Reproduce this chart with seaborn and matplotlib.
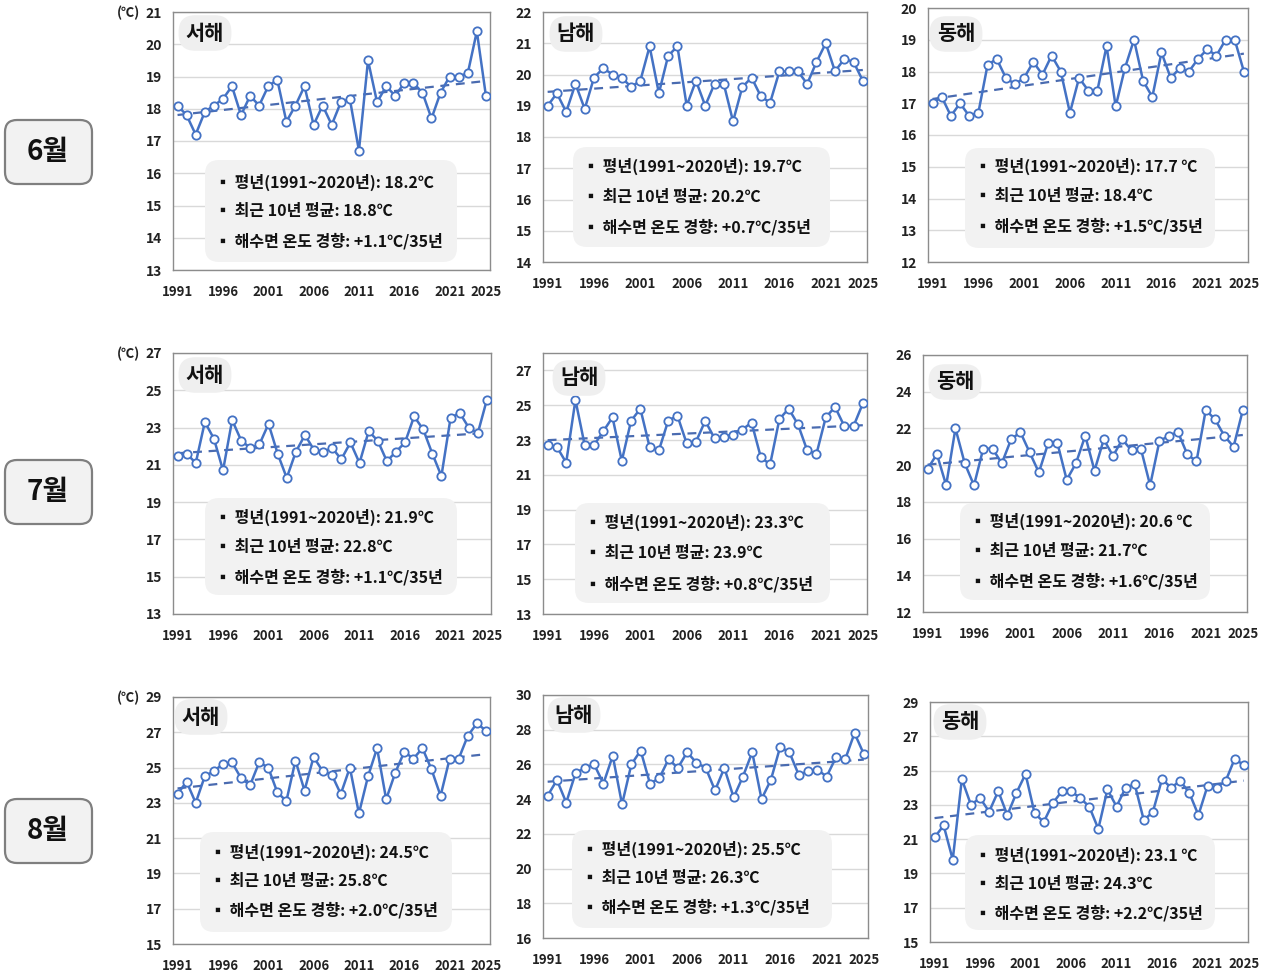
import matplotlib
matplotlib.use("Agg")
import matplotlib.pyplot as plt
from matplotlib.patches import FancyBboxPatch
from matplotlib.transforms import IdentityTransform
import numpy as np
import pandas as pd
import seaborn as sns

sns.set_style("white")
plt.rcParams["font.family"] = ["Noto Sans CJK KR", "DejaVu Sans"]
plt.rcParams["axes.unicode_minus"] = False

# ---------------- data ----------------
years = list(range(1991, 2026))
months = ["6월", "7월", "8월"]
seas = ["서해", "남해", "동해"]
xtick_years = [1991, 1996, 2001, 2006, 2011, 2016, 2021, 2025]

jun_west = [18.1, 17.8, 17.2, 17.9, 18.1, 18.3, 18.7, 17.8, 18.4, 18.1,
            18.7, 18.9, 17.6, 18.1, 18.7, 17.5, 18.1, 17.5, 18.2, 18.3,
            16.7, 19.5, 18.2, 18.7, 18.4, 18.8, 18.8, 18.5, 17.7, 18.5,
            19.0, 19.0, 19.1, 20.4, 18.4]
jun_south = [19.0, 19.4, 18.8, 19.7, 18.9, 19.9, 20.2, 20.0, 19.9, 19.6,
             19.8, 20.9, 19.4, 20.6, 20.9, 19.0, 19.8, 19.0, 19.7, 19.7,
             18.5, 19.6, 19.9, 19.3, 19.1, 20.1, 20.1, 20.1, 19.7, 20.4,
             21.0, 20.1, 20.5, 20.4, 19.8]
jun_east = [17.0, 17.2, 16.6, 17.0, 16.6, 16.7, 18.2, 18.4, 17.8, 17.6,
            17.8, 18.3, 17.9, 18.5, 18.0, 16.7, 17.8, 17.4, 17.4, 18.8,
            16.9, 18.1, 19.0, 17.7, 17.2, 18.6, 17.8, 18.1, 18.0, 18.4,
            18.7, 18.5, 19.0, 19.0, 18.0]
jul_west = [21.5, 21.6, 21.1, 23.3, 22.4, 20.7, 23.4, 22.3, 21.9, 22.1,
            23.2, 21.6, 20.3, 21.7, 22.6, 21.8, 21.7, 21.9, 21.3, 22.2,
            21.1, 22.8, 22.3, 21.2, 21.7, 22.2, 23.6, 22.9, 21.6, 20.4,
            23.5, 23.8, 23.0, 22.7, 24.5]
jul_south = [22.7, 22.6, 21.7, 25.3, 22.7, 22.7, 23.5, 24.3, 21.8, 24.1,
             24.8, 22.6, 22.4, 24.1, 24.4, 22.8, 22.9, 24.1, 23.1, 23.2,
             23.3, 23.6, 24.0, 22.0, 21.6, 24.2, 24.8, 23.9, 22.4, 22.2,
             24.3, 24.9, 23.8, 23.8, 25.1]
jul_east = [19.8, 20.6, 18.9, 22.0, 20.1, 18.9, 20.9, 20.9, 20.1, 21.4,
            21.8, 20.7, 19.6, 21.2, 21.2, 19.2, 20.1, 21.6, 19.7, 21.4,
            20.5, 21.4, 20.8, 20.9, 18.9, 21.3, 21.6, 21.8, 20.6, 20.2,
            23.0, 22.5, 21.6, 21.0, 23.0]
aug_west = [23.5, 24.2, 23.0, 24.5, 24.8, 25.2, 25.3, 24.4, 24.0, 25.3,
            25.0, 23.6, 23.1, 25.4, 23.7, 25.6, 24.8, 24.6, 23.5, 25.0,
            22.4, 24.5, 26.1, 23.2, 24.7, 25.9, 25.5, 26.1, 24.9, 23.4,
            25.5, 25.5, 26.8, 27.5, 27.1]
aug_south = [24.2, 25.1, 23.8, 25.5, 25.8, 26.0, 24.9, 26.5, 23.7, 26.0,
             26.8, 24.9, 25.2, 26.3, 25.8, 26.7, 26.1, 25.8, 24.5, 25.8,
             24.1, 25.3, 26.7, 24.0, 25.1, 27.0, 26.7, 25.4, 25.6, 25.7,
             25.3, 26.4, 26.3, 27.8, 26.6]
aug_east = [21.1, 21.8, 19.8, 24.5, 23.0, 23.4, 22.6, 23.8, 22.4, 23.7,
            24.8, 22.5, 22.0, 23.1, 23.8, 23.8, 23.4, 22.9, 21.6, 23.9,
            22.9, 24.0, 24.2, 22.1, 22.6, 24.5, 24.0, 24.4, 23.7, 22.4,
            24.1, 24.0, 24.4, 25.7, 25.3]

series = [[jun_west, jun_south, jun_east],
          [jul_west, jul_south, jul_east],
          [aug_west, aug_south, aug_east]]

normal_jun = ["18.2℃", "19.7℃", "17.7 ℃"]
recent_jun = ["18.8℃", "20.2℃", "18.4℃"]
trend_jun = ["+1.1℃/35년", "+0.7℃/35년", "+1.5℃/35년"]
normal_jul = ["21.9℃", "23.3℃", "20.6 ℃"]
recent_jul = ["22.8℃", "23.9℃", "21.7℃"]
trend_jul = ["+1.1℃/35년", "+0.8℃/35년", "+1.6℃/35년"]
normal_aug = ["24.5℃", "25.5℃", "23.1 ℃"]
recent_aug = ["25.8℃", "26.3℃", "24.3℃"]
trend_aug = ["+2.0℃/35년", "+1.3℃/35년", "+2.2℃/35년"]
normals = [normal_jun, normal_jul, normal_aug]
recents = [recent_jun, recent_jul, recent_aug]
trends = [trend_jun, trend_jul, trend_aug]

# y-axis ranges (min tick, max tick, step, upper limit)
y_ranges = [[(13, 21, 1, 21), (14, 22, 1, 22), (12, 20, 1, 20)],
            [(13, 27, 2, 27), (13, 27, 2, 28), (12, 26, 2, 26)],
            [(15, 29, 2, 29), (16, 30, 2, 30), (15, 29, 2, 29)]]

# ---------------- layout (pixels) ----------------
W, H = 1270, 974
ax_px = [[(173, 12, 490, 270), (543, 12, 867, 262), (928, 8, 1248, 262)],
         [(173, 353, 491, 614), (543, 353, 867, 614), (923, 355, 1247, 612)],
         [(173, 697, 490, 944), (543, 695, 868, 938), (930, 702, 1248, 942)]]
box_px = [[(205, 160, 457, 262), (573, 147, 830, 247), (965, 148, 1215, 248)],
          [(205, 498, 457, 595), (575, 503, 830, 603), (960, 503, 1210, 600)],
          [(200, 832, 452, 932), (572, 830, 832, 928), (965, 835, 1215, 930)]]
line_px = [[(215, (182, 211, 241)), (583, (166, 197, 227)), (975, (166, 196, 226))],
           [(215, (517, 547, 577)), (585, (522, 553, 584)), (970, (521, 551, 581))],
           [(210, (852, 881, 910)), (582, (849, 878, 907)), (975, (855, 884, 913))]]
sea_px = [[(205, 33), (576, 34), (956, 34)],
          [(205, 375), (579, 378), (955, 382)],
          [(201, 717), (574, 715), (960, 722)]]
month_px = [(48, 152), (48, 492), (48, 831)]
unit_px = [(128, 13), (128, 354), (128, 698)]

LINE = "#4472C4"
TREND = "#4A6BB0"
GRID = "#D9D9D9"
SPINE = "#8C8C8C"
BOXFC = "#F2F2F2"

fig = plt.figure(figsize=(W / 100, H / 100), dpi=100)


def fx(x):
    return x / W


def fy(y):
    return 1 - y / H


def rbox(x0, y0, x1, y1, r, fc, ec="none", lw=0, z=1.5):
    return FancyBboxPatch((x0, H - y1), x1 - x0, y1 - y0,
                          boxstyle=f"round,pad=0,rounding_size={r}",
                          transform=IdentityTransform(), fc=fc, ec=ec, lw=lw,
                          zorder=z, clip_on=False)


for i in range(3):
    for j in range(3):
        x0, y0, x1, y1 = ax_px[i][j]
        ax = fig.add_axes([fx(x0), fy(y1), fx(x1) - fx(x0), fy(y0) - fy(y1)])
        df = pd.DataFrame({"year": years, "sst": series[i][j]})
        sns.regplot(data=df, x="year", y="sst", ax=ax, scatter=False, ci=None,
                    truncate=True,
                    line_kws=dict(color=TREND, lw=1.6, dashes=(4, 3), zorder=3))
        sns.lineplot(data=df, x="year", y="sst", ax=ax, color=LINE, lw=1.8,
                     marker="o", markersize=6, markerfacecolor="white",
                     markeredgecolor=LINE, markeredgewidth=1.3, zorder=4)
        lo, hi, step, top = y_ranges[i][j]
        ax.set_xlim(1990.5, 2025.45)
        ax.set_ylim(lo, top)
        ax.set_yticks(np.arange(lo, hi + 0.01, step))
        ax.set_xticks(xtick_years)
        ax.set_xlabel("")
        ax.set_ylabel("")
        ax.yaxis.grid(True, color=GRID, lw=1.0)
        ax.set_axisbelow(True)
        for s in ax.spines.values():
            s.set_color(SPINE)
            s.set_linewidth(1.0)
        ax.tick_params(axis="x", direction="inout", length=6, width=1,
                       color=SPINE, pad=8, labelsize=9.5)
        ax.tick_params(axis="y", direction="inout", length=6, width=1,
                       color=SPINE, pad=5, labelsize=10)
        for lab in ax.get_xticklabels() + ax.get_yticklabels():
            lab.set_fontweight("bold")
            lab.set_color("#222222")

        # stats box
        bx0, by0, bx1, by1 = box_px[i][j]
        ax.add_patch(rbox(bx0, by0, bx1, by1, 14, BOXFC))
        tx, tys = line_px[i][j]
        lines = [f"▪ 평년(1991~2020년): {normals[i][j]}",
                 f"▪ 최근 10년 평균: {recents[i][j]}",
                 f"▪ 해수면 온도 경향: {trends[i][j]}"]
        for ty, s in zip(tys, lines):
            fig.text(fx(tx), fy(ty), s, ha="left", va="center", fontsize=11.5,
                     fontweight="bold", color="#111111")

        # sea label
        sx, sy = sea_px[i][j]
        fig.text(fx(sx), fy(sy), seas[j], ha="center", va="center",
                 fontsize=15, fontweight="bold", color="#111111",
                 bbox=dict(boxstyle="round,pad=0.35,rounding_size=0.8",
                           fc="#EFEFEF", ec="none"))

    # month label
    mx, my = month_px[i]
    fig.add_artist(rbox(mx - 43, my - 32, mx + 44, my + 32, 12, BOXFC,
                        ec="#7F7F7F", lw=1.6, z=1))
    fig.text(fx(mx), fy(my), months[i], ha="center", va="center",
             fontsize=20, fontweight="bold", color="#111111")
    ux, uy = unit_px[i]
    fig.text(fx(ux), fy(uy), "(℃)", ha="center", va="center",
             fontsize=9.5, fontweight="bold", color="#222222")

fig.savefig("out.png", dpi=100)
